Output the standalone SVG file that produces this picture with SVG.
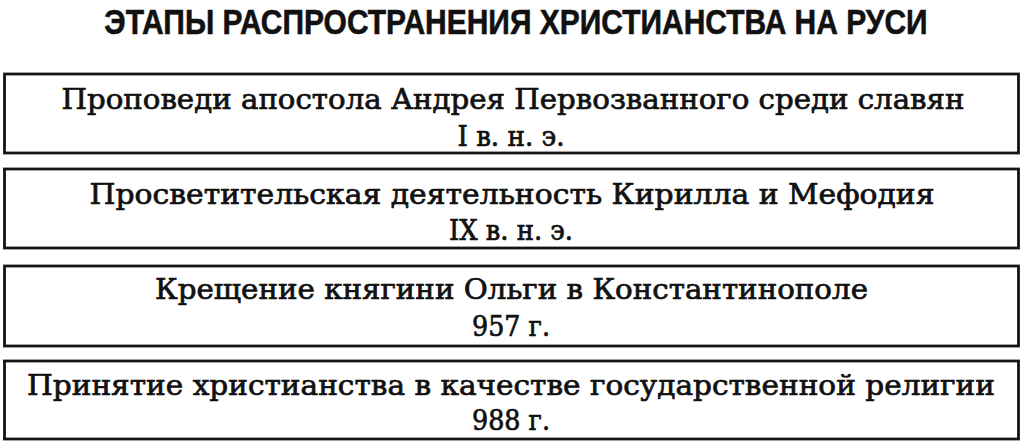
<svg xmlns="http://www.w3.org/2000/svg" width="1024" height="444" viewBox="0 0 1024 444">
<style>
.box{fill:#fff;stroke:#141414;stroke-width:2.8}
.t{font-family:"DejaVu Serif","Liberation Serif",serif;font-size:27px;fill:#111;stroke:#111;stroke-width:0.7;text-anchor:middle}
.title{font-family:"Liberation Sans","DejaVu Sans",sans-serif;font-weight:bold;font-size:35px;fill:#111;stroke:#111;stroke-width:0.6;text-anchor:middle}
</style>
<rect width="1024" height="444" fill="#fff"/>
<g id="title" transform="translate(516,34) scale(0.82,1)">
<text class="title" x="0" y="0" textLength="1004" lengthAdjust="spacingAndGlyphs">ЭТАПЫ РАСПРОСТРАНЕНИЯ ХРИСТИАНСТВА НА РУСИ</text>
</g>
<g id="stage1">
<rect class="box" x="4.5" y="74" width="1014" height="79"/>
<text class="t" x="513" y="109" textLength="903" lengthAdjust="spacingAndGlyphs">Проповеди апостола Андрея Первозванного среди славян</text>
<text class="t" x="511" y="146" textLength="107" lengthAdjust="spacingAndGlyphs">I в. н. э.</text>
</g>
<g id="stage2">
<rect class="box" x="4.5" y="169" width="1014" height="79"/>
<text class="t" x="512" y="204" textLength="845" lengthAdjust="spacingAndGlyphs">Просветительская деятельность Кирилла и Мефодия</text>
<text class="t" x="511" y="240" textLength="124" lengthAdjust="spacingAndGlyphs">IX в. н. э.</text>
</g>
<g id="stage3">
<rect class="box" x="4.5" y="266" width="1014" height="80"/>
<text class="t" x="511.5" y="299" textLength="713" lengthAdjust="spacingAndGlyphs">Крещение княгини Ольги в Константинополе</text>
<text class="t" x="511" y="336" textLength="78" lengthAdjust="spacingAndGlyphs">957 г.</text>
</g>
<g id="stage4">
<rect class="box" x="4.5" y="361" width="1014" height="78"/>
<text class="t" x="511" y="395" textLength="968" lengthAdjust="spacingAndGlyphs">Принятие христианства в качестве государственной религии</text>
<text class="t" x="511" y="430" textLength="78" lengthAdjust="spacingAndGlyphs">988 г.</text>
</g>
<g id="connectors"></g>
</svg>
